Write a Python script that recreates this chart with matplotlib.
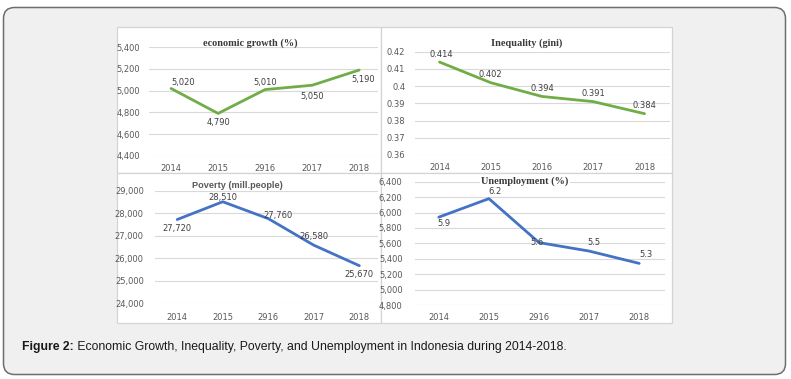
import matplotlib
matplotlib.use("Agg")
import matplotlib.pyplot as plt
from matplotlib.patches import FancyBboxPatch, Rectangle

W, H = 791, 379

# ---------------- data ----------------
years_growth = ["2014", "2015", "2916", "2017", "2018"]
growth = [5020, 4790, 5010, 5050, 5190]
growth_labels = ["5,020", "4,790", "5,010", "5,050", "5,190"]
growth_ticks = [4400, 4600, 4800, 5000, 5200, 5400]

years_gini = ["2014", "2015", "2016", "2017", "2018"]
gini = [0.414, 0.402, 0.394, 0.391, 0.384]
gini_labels = ["0.414", "0.402", "0.394", "0.391", "0.384"]
gini_ticks = [0.36, 0.37, 0.38, 0.39, 0.40, 0.41, 0.42]
gini_ticklabels = ["0.36", "0.37", "0.38", "0.39", "0.4", "0.41", "0.42"]

years_pov = ["2014", "2015", "2916", "2017", "2018"]
poverty = [27720, 28510, 27760, 26580, 25670]
poverty_labels = ["27,720", "28,510", "27,760", "26,580", "25,670"]
poverty_ticks = [24000, 25000, 26000, 27000, 28000, 29000]

years_unemp = ["2014", "2015", "2916", "2017", "2018"]
unemp = [5940, 6180, 5610, 5500, 5340]
unemp_labels = ["5.9", "6.2", "5.6", "5.5", "5.3"]
unemp_ticks = [4800, 5000, 5200, 5400, 5600, 5800, 6000, 6200, 6400]

GREEN = "#70ad47"
BLUE = "#4472c4"
TICK_C = "#595959"
LAB_C = "#404040"
GRID_C = "#d9d9d9"

fig = plt.figure(figsize=(W / 100, H / 100), dpi=100)
fig.patch.set_facecolor("white")

# background canvas in pixel coords
bg = fig.add_axes([0, 0, 1, 1])
bg.set_xlim(0, W)
bg.set_ylim(H, 0)
bg.axis("off")
bg.add_patch(FancyBboxPatch((3.5, 7.5), 782, 367, boxstyle="round,pad=0,rounding_size=11",
                            facecolor="#f0f0f0", edgecolor="#6e6e6e", lw=1.1))
for (x0, y0, x1, y1) in [(117, 27, 381, 173), (381, 27, 672, 173),
                         (117, 173, 381, 323), (381, 173, 672, 323)]:
    bg.add_patch(Rectangle((x0, y0), x1 - x0, y1 - y0, facecolor="white",
                           edgecolor="#d4d4d4", lw=0.9))

t1 = bg.text(22, 347, "Figure 2:", fontsize=8.8, fontweight="bold",
             family="Liberation Sans", color="#1a1a1a", va="center", ha="left")
bg.annotate(" Economic Growth, Inequality, Poverty, and Unemployment in Indonesia during 2014-2018.",
            xy=(1, 0.5), xycoords=t1, va="center", ha="left", fontsize=8.8,
            family="Liberation Sans", color="#1a1a1a")


def px_axes(x0, x1, y_top, y_bot):
    return fig.add_axes([x0 / W, 1 - y_bot / H, (x1 - x0) / W, (y_bot - y_top) / H])


def title(x, y, s, **kw):
    fig.text(x / W, 1 - y / H, s, ha="center", va="center", zorder=10, **kw)


def setup(ax, cats, ticks, ticklabels, ylim, xlim, ypad, xpad):
    ax.set_facecolor("none")
    ax.set_xlim(*xlim)
    ax.set_ylim(*ylim)
    ax.set_xticks(range(len(cats)))
    ax.set_xticklabels(cats, fontsize=6, color=TICK_C, family="DejaVu Sans")
    ax.set_yticks(ticks)
    ax.set_yticklabels(ticklabels, fontsize=6, color=TICK_C, family="DejaVu Sans")
    ax.tick_params(length=0, axis="y", pad=ypad)
    ax.tick_params(length=0, axis="x", pad=xpad)
    for s in ax.spines.values():
        s.set_visible(False)
    ax.grid(axis="y", color=GRID_C, lw=0.8)
    ax.set_axisbelow(True)


# ---- economic growth ----
ax1 = px_axes(148.5, 377.5, 47.3, 155.7)
setup(ax1, years_growth, growth_ticks, [f"{v:,}" for v in growth_ticks],
      (4400, 5400), (-0.48, 4.39), 6, 6)
ax1.plot(range(5), growth, color=GREEN, lw=2.0, solid_capstyle="round")
offs1 = [(12, 6), (0, -9), (0, 7), (0, -11), (4, -9)]
for i, (v, l) in enumerate(zip(growth, growth_labels)):
    ax1.annotate(l, (i, v), xytext=offs1[i], textcoords="offset pixels",
                 ha="center", va="center", fontsize=6, color=LAB_C)
title(250, 43, "economic growth (%)", fontsize=7.4, fontweight="bold",
      family="Liberation Serif", color="#3a3a3a")

# ---- inequality ----
ax2 = px_axes(415, 670, 51.7, 155)
setup(ax2, years_gini, gini_ticks, gini_ticklabels, (0.36, 0.42), (-0.478, 4.497), 7, 6)
ax2.plot(range(5), gini, color=GREEN, lw=2.0, solid_capstyle="round")
offs2 = [(2, 8), (0, 8), (0, 8), (0, 8), (0, 8)]
for i, (v, l) in enumerate(zip(gini, gini_labels)):
    ax2.annotate(l, (i, v), xytext=offs2[i], textcoords="offset pixels",
                 ha="center", va="center", fontsize=6, color=LAB_C)
title(527, 43, "Inequality (gini)", fontsize=7.4, fontweight="bold",
      family="Liberation Serif", color="#3a3a3a")

# ---- poverty ----
ax3 = px_axes(155, 378, 190.7, 303.3)
setup(ax3, years_pov, poverty_ticks, [f"{v:,}" for v in poverty_ticks],
      (24000, 29000), (-0.488, 4.41), 8, 7)
ax3.plot(range(5), poverty, color=BLUE, lw=2.0, solid_capstyle="round")
offs3 = [(0, -9), (0, 4), (10, 3), (0, 9), (0, -9)]
for i, (v, l) in enumerate(zip(poverty, poverty_labels)):
    ax3.annotate(l, (i, v), xytext=offs3[i], textcoords="offset pixels",
                 ha="center", va="center", fontsize=6, color=LAB_C)
title(237, 185, "Poverty (mill.people)", fontsize=6.6, fontweight="bold",
      family="Liberation Sans", color="#595959")

# ---- unemployment ----
ax4 = px_axes(415, 665, 181.7, 305)
setup(ax4, years_unemp, unemp_ticks, [f"{v:,}" for v in unemp_ticks],
      (4800, 6400), (-0.475, 4.515), 9, 6)
ax4.plot(range(5), unemp, color=BLUE, lw=2.0, solid_capstyle="round")
offs4 = [(5, -6), (6, 7), (-2, 0), (5, 9), (7, 9)]
for i, (v, l) in enumerate(zip(unemp, unemp_labels)):
    ax4.annotate(l, (i, v), xytext=offs4[i], textcoords="offset pixels",
                 ha="center", va="center", fontsize=6, color=LAB_C)
title(525, 181, "Unemployment (%)", fontsize=7.4, fontweight="bold",
      family="Liberation Serif", color="#3a3a3a",
      bbox=dict(facecolor="white", edgecolor="none", pad=1))

fig.savefig("out.png", dpi=100)
